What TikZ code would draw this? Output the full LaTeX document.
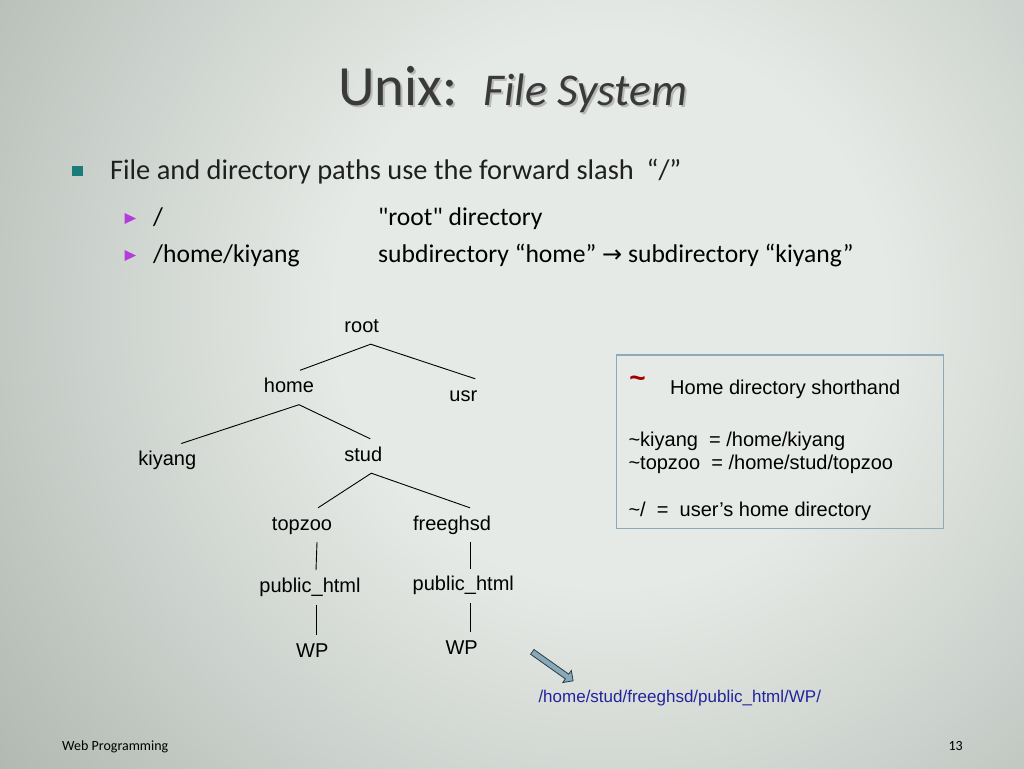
\documentclass[tikz,border=0pt]{standalone}
\usepackage{fontspec}
\setmainfont{Carlito}
\newfontfamily\arialfont{Liberation Sans}
\newfontfamily\symfont{DejaVu Sans}
\usetikzlibrary{shapes.arrows}
\definecolor{bgin}{HTML}{E6EAE6}
\definecolor{bgout}{HTML}{87928A}
\definecolor{titlegray}{HTML}{3A3A3A}
\definecolor{bullteal}{HTML}{1B7B79}
\definecolor{bullpurple}{HTML}{B43CDC}
\definecolor{boxblue}{HTML}{8EAABA}
\definecolor{tildered}{HTML}{A00000}
\definecolor{pathblue}{HTML}{23239B}
\definecolor{arrowfill}{HTML}{87A9B9}
\definecolor{arrowedge}{HTML}{2A3B44}
\pgfdeclareradialshading{slidebg}{\pgfpoint{0bp}{0bp}}{color(0bp)=(bgin); color(6bp)=(bgin); color(25bp)=(bgout); color(50bp)=(bgout)}
\newcommand\slidetitle{Unix:\hspace{26pt}{\itshape\fontsize{45.5}{50}\selectfont File System}}

\begin{document}
\begin{tikzpicture}[x=1pt, y=-1pt,
  dir/.style={font=\arialfont\fontsize{20}{24}\selectfont, inner sep=8pt, text height=14pt, text depth=4pt},
  edge/.style={line width=0.9pt},
  txt/.style={anchor=base west, inner sep=0pt},
  sub/.style={txt, font=\fontsize{25.6}{30}\selectfont},
  box/.style={txt, font=\arialfont\fontsize{20}{24}\selectfont}]
\useasboundingbox (0,0) rectangle (1024,768);
\begin{scope}
\clip (0,0) rectangle (1024,768);
\shade[shading=slidebg] (610,310) circle (1150pt);
\end{scope}

% title
\node[txt, text=black!28, font=\fontsize{56.9}{60}\selectfont] (titleshadow) at (340,107) {\slidetitle};
\node[txt, text=titlegray, font=\fontsize{56.9}{60}\selectfont] (title) at (338,105) {\slidetitle};

% bullets
\fill[bullteal] (72,166) rectangle (83,176);
\node[txt, text=black!88, font=\fontsize{28.4}{34}\selectfont] (point) at (110,179) {File and directory paths use the forward slash\ \ “/”};
\fill[bullpurple] (124.5,213) -- (136,218.5) -- (124.5,224) -- cycle;
\fill[bullpurple] (124.5,250) -- (136,255.5) -- (124.5,261) -- cycle;
\node[sub] (rootpath) at (153,225) {/};
\node[sub] (rootnote) at (378,225) {\textquotedbl root\textquotedbl\ directory};
\node[sub] (homepath) at (153,262) {/home/kiyang};
\node[sub] (homenote) at (378,262) {subdirectory “home” {\symfont\fontsize{24}{28}\selectfont→} subdirectory “kiyang”};

% tree
\node[dir] (root) at (361.7,327) {root};
\node[dir] (home) at (289,387.5) {home};
\node[dir] (usr) at (463.3,396) {usr};
\node[dir] (kiyang) at (167.3,460.7) {kiyang};
\node[dir] (stud) at (363.3,456) {stud};
\node[dir] (topzoo) at (302,525) {topzoo};
\node[dir] (freeghsd) at (452,525) {freeghsd};
\node[dir] (pubA) at (310,587.3) {public\_html};
\node[dir] (pubB) at (463.3,585.7) {public\_html};
\node[dir] (wpA) at (312.3,652.3) {WP};
\node[dir] (wpB) at (461.7,649.3) {WP};
\draw[edge] ([xshift=11]home.north) -- ([xshift=9]root.south) -- ([xshift=12]usr.north);
\draw[edge] ([xshift=14]kiyang.north) -- ([xshift=10]home.south) -- ([xshift=7]stud.north);
\draw[edge] ([xshift=16]topzoo.north) -- ([xshift=8]stud.south) -- ([xshift=18]freeghsd.north);
\draw[edge] ([xshift=15]topzoo.south) -- ([xshift=6]pubA.north);
\draw[edge] ([xshift=18]freeghsd.south) -- ([xshift=6.7]pubB.north);
\draw[edge] ([xshift=6]pubA.south) -- ([xshift=3.7]wpA.north);
\draw[edge] ([xshift=6.7]pubB.south) -- ([xshift=8.3]wpB.north);

% shorthand box
\draw[boxblue, line width=1.2pt] (616.7,355) rectangle (943.3,528.3);
\node[text=tildered, font=\arialfont\bfseries\fontsize{28}{28}\selectfont, inner sep=0pt] (tilde) at (637.5,382) {\textasciitilde};
\node[box] (shorthand) at (670,394.3) {Home directory shorthand};
\node[box] (kiyangalias) at (628.3,446.7) {\textasciitilde kiyang\ \ = /home/kiyang};
\node[box] (topzooalias) at (628.3,469.3) {\textasciitilde topzoo\ \ = /home/stud/topzoo};
\node[box] (homealias) at (628.3,516.7) {\textasciitilde/\ \ =\ \ user’s home directory};

% full path
\node[single arrow, draw=arrowedge, fill=arrowfill, line width=0.8pt, minimum height=50pt, inner sep=2.5pt, single arrow head extend=4.5pt, rotate=-35.3] (pathptr) at (551.5,665.5) {};
\node[txt, text=pathblue, font=\arialfont\fontsize{17}{20}\selectfont] (fullpath) at (538.3,702.5) {/home/stud/freeghsd/public\_html/WP/};

% footer
\node[txt, font=\fontsize{14}{16}\selectfont] (footer) at (62,750) {Web Programming};
\node[inner sep=0pt, anchor=base east, font=\fontsize{14}{16}\selectfont] (pageno) at (963,750) {13};
\end{tikzpicture}
\end{document}
